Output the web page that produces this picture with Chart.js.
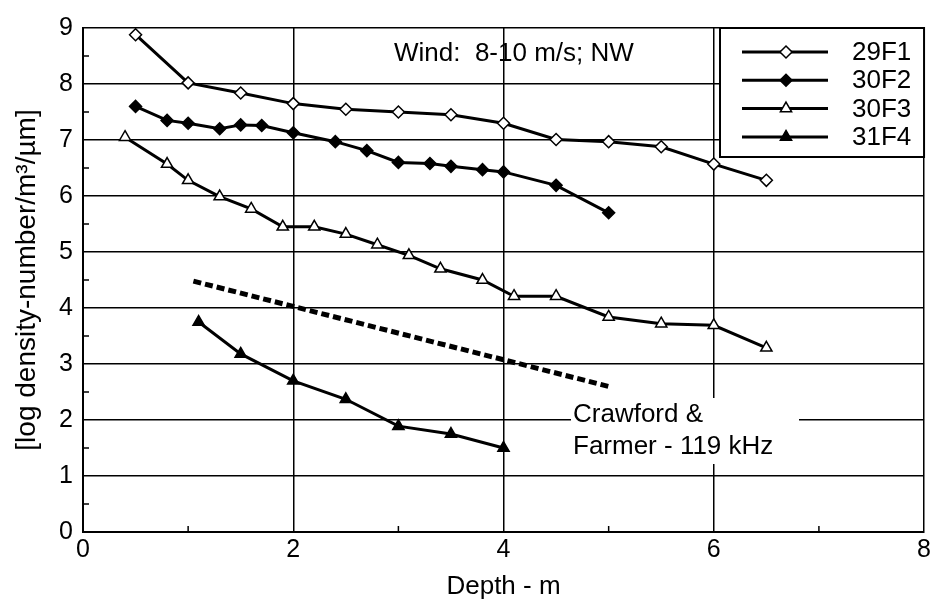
<!DOCTYPE html>
<html lang="en">
<head>
    <meta charset="UTF-8">
    <title>Density vs Depth</title>
    <script src="https://cdn.jsdelivr.net/npm/chart.js"></script>
    <style>
        body { margin: 0; background: #fff; }
    </style>
</head>
<body>
    <canvas id="myChart" width="934" height="606"></canvas>
    <script>
        // data
        const depth29F1 = [0.5, 1.0, 1.5, 2.0, 2.5, 3.0, 3.5, 4.0, 4.5, 5.0, 5.5, 6.0, 6.5];
        const val29F1 = [8.88, 8.02, 7.84, 7.65, 7.55, 7.5, 7.45, 7.3, 7.01, 6.97, 6.88, 6.57, 6.28];

        const depth30F2 = [0.5, 0.8, 1.0, 1.3, 1.5, 1.7, 2.0, 2.4, 2.7, 3.0, 3.3, 3.5, 3.8, 4.0, 4.5, 5.0];
        const val30F2 = [7.6, 7.35, 7.3, 7.2, 7.27, 7.26, 7.13, 6.97, 6.81, 6.6, 6.58, 6.53, 6.47, 6.43, 6.19, 5.7];

        const depth30F3 = [0.4, 0.8, 1.0, 1.3, 1.6, 1.9, 2.2, 2.5, 2.8, 3.1, 3.4, 3.8, 4.1, 4.5, 5.0, 5.5, 6.0, 6.5];
        const val30F3 = [7.05, 6.57, 6.28, 5.99, 5.77, 5.45, 5.45, 5.32, 5.13, 4.94, 4.7, 4.5, 4.21, 4.21, 3.84, 3.72, 3.69, 3.29];

        const depth31F4 = [1.1, 1.5, 2.0, 2.5, 3.0, 3.5, 4.0];
        const val31F4 = [3.75, 3.18, 2.7, 2.37, 1.89, 1.75, 1.5];

        // Crawford & Farmer - 119 kHz reference line
        const depthCF = [1.05, 5.0];
        const valCF = [4.48, 2.6];

        const xTicks = [0, 2, 4, 6, 8];
        const yTicks = [0, 1, 2, 3, 4, 5, 6, 7, 8, 9];

        const FONT = 'Liberation Sans, Arial, Helvetica, sans-serif';

        function pts(xs, ys) {
            return xs.map((x, i) => ({ x: x, y: ys[i] }));
        }

        function series(label, xs, ys, style, filled) {
            return {
                label: label,
                data: pts(xs, ys),
                showLine: true,
                borderColor: '#000',
                borderWidth: 3,
                pointStyle: style,
                pointRadius: style === 'triangle' ? 6.5 : 6,
                pointBackgroundColor: filled ? '#000' : '#fff',
                pointBorderColor: '#000',
                pointBorderWidth: 1.5
            };
        }

        const datasets = [
            series('29F1', depth29F1, val29F1, 'rectRot', false),
            series('30F2', depth30F2, val30F2, 'rectRot', true),
            series('30F3', depth30F3, val30F3, 'triangle', false),
            series('31F4', depth31F4, val31F4, 'triangle', true),
            {
                label: 'Crawford & Farmer - 119 kHz',
                data: pts(depthCF, valCF),
                showLine: true,
                borderColor: '#000',
                borderWidth: 5,
                borderDash: [8, 4],
                pointRadius: 0
            }
        ];

        function drawShape(ctx, style, filled, x, y, r) {
            ctx.beginPath();
            if (style === 'rectRot') {
                ctx.moveTo(x, y - r);
                ctx.lineTo(x + r, y);
                ctx.lineTo(x, y + r);
                ctx.lineTo(x - r, y);
            } else {
                ctx.moveTo(x, y - r);
                ctx.lineTo(x + r * 0.866, y + r * 0.5);
                ctx.lineTo(x - r * 0.866, y + r * 0.5);
            }
            ctx.closePath();
            ctx.fillStyle = filled ? '#000' : '#fff';
            ctx.fill();
            ctx.lineWidth = 1.5;
            ctx.strokeStyle = '#000';
            ctx.stroke();
        }

        // minor ticks, legend box and text notes
        const extras = {
            id: 'extras',
            afterDraw(chart) {
                const ctx = chart.ctx;
                const a = chart.chartArea;
                const xs = chart.scales.x, ys = chart.scales.y;
                ctx.save();
                ctx.strokeStyle = '#000';
                ctx.lineWidth = 1.5;
                // inside minor ticks
                for (let v = 0.5; v < 9; v += 1) {
                    const py = ys.getPixelForValue(v);
                    ctx.beginPath();
                    ctx.moveTo(a.left, py);
                    ctx.lineTo(a.left + 6, py);
                    ctx.stroke();
                }
                for (let v = 1; v < 8; v += 2) {
                    const px = xs.getPixelForValue(v);
                    ctx.beginPath();
                    ctx.moveTo(px, a.bottom);
                    ctx.lineTo(px, a.bottom - 6);
                    ctx.stroke();
                }

                // legend box
                const bx = 720, by = a.top, bw = a.right - 720, bh = 157 - a.top;
                ctx.fillStyle = '#fff';
                ctx.fillRect(bx, by, bw, bh);
                ctx.lineWidth = 2;
                ctx.strokeRect(bx, by, bw, bh);
                const styles = [['rectRot', false], ['rectRot', true], ['triangle', false], ['triangle', true]];
                ctx.font = '26px ' + FONT;
                ctx.textBaseline = 'middle';
                ctx.textAlign = 'left';
                for (let i = 0; i < 4; i++) {
                    const ly = 52 + i * 28.3;
                    ctx.lineWidth = 3;
                    ctx.beginPath();
                    ctx.moveTo(742, ly);
                    ctx.lineTo(828, ly);
                    ctx.stroke();
                    drawShape(ctx, styles[i][0], styles[i][1], 786, ly, styles[i][0] === 'triangle' ? 6.5 : 6);
                    ctx.fillStyle = '#000';
                    ctx.fillText(datasets[i].label, 852, ly + 1);
                }

                // wind note
                ctx.fillStyle = '#000';
                ctx.fillText('Wind:  8-10 m/s; NW', 394, 54);

                // Crawford & Farmer note
                ctx.fillStyle = '#fff';
                ctx.fillRect(571, 398, 228, 66);
                ctx.fillStyle = '#000';
                ctx.textBaseline = 'alphabetic';
                ctx.fillText('Crawford &', 573, 422);
                ctx.fillText('Farmer - 119 kHz', 573, 454);
                ctx.restore();
            }
        };

        const ctx = document.getElementById('myChart').getContext('2d');
        new Chart(ctx, {
            type: 'scatter',
            data: { datasets: datasets },
            options: {
                responsive: false,
                animation: false,
                devicePixelRatio: 1,
                layout: { padding: { top: 28, right: 8, left: 0, bottom: 0 } },
                plugins: {
                    legend: { display: false },
                    tooltip: { enabled: false }
                },
                scales: {
                    x: {
                        type: 'linear',
                        min: 0,
                        max: 8,
                        afterFit: s => { s.height = 74; },
                        afterBuildTicks: s => { s.ticks = [0, 1, 2, 3, 4, 5, 6, 7, 8].map(v => ({ value: v })); },
                        ticks: {
                            autoSkip: false,
                            maxRotation: 0,
                            padding: 3,
                            color: '#000',
                            font: { family: FONT, size: 25 },
                            callback: v => xTicks.includes(v) ? String(v) : ''
                        },
                        grid: {
                            drawTicks: false,
                            lineWidth: 1.5,
                            color: c => (c.tick && xTicks.includes(c.tick.value)) ? '#000' : 'rgba(0,0,0,0)'
                        },
                        border: { color: '#000', width: 2 },
                        title: {
                            display: true,
                            text: 'Depth - m',
                            color: '#000',
                            font: { family: FONT, size: 26 },
                            padding: { top: 0, bottom: 4 }
                        }
                    },
                    y: {
                        min: 0,
                        max: 9,
                        afterFit: s => { s.width = 83; },
                        afterBuildTicks: s => { s.ticks = yTicks.map(v => ({ value: v })); },
                        ticks: {
                            autoSkip: false,
                            padding: 10,
                            color: '#000',
                            font: { family: FONT, size: 25 },
                            callback: v => String(v)
                        },
                        grid: {
                            drawTicks: false,
                            lineWidth: 1.5,
                            color: '#000'
                        },
                        border: { color: '#000', width: 2 },
                        title: {
                            display: true,
                            text: '[log density-number/m³/µm]',
                            color: '#000',
                            font: { family: FONT, size: 28 },
                            padding: { top: 10, bottom: 0 }
                        }
                    }
                }
            },
            plugins: [extras]
        });
    </script>
</body>
</html>
